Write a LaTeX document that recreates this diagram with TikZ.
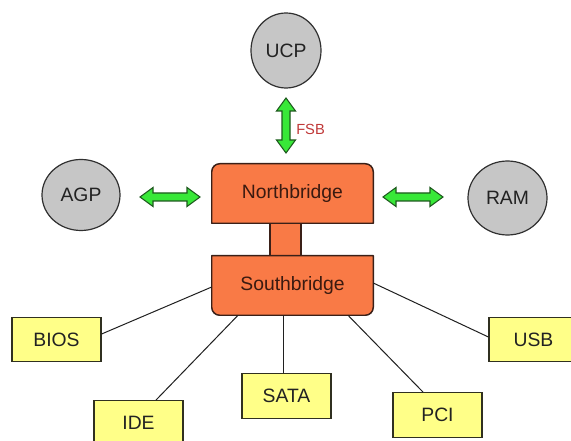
\documentclass[tikz,border=0pt]{standalone}
\usepackage{fontspec}
\setmainfont{Liberation Sans}
\usetikzlibrary{shapes.geometric,calc,backgrounds}
\definecolor{orfill}{HTML}{F97A46}
\definecolor{bridgeline}{HTML}{3A2018}
\definecolor{bridgetext}{HTML}{3A1A10}
\definecolor{grayfill}{HTML}{C6C6C6}
\definecolor{circline}{HTML}{303030}
\definecolor{yellowfill}{HTML}{FFFF88}
\definecolor{boxline}{HTML}{303020}
\definecolor{greenfill}{HTML}{38E838}
\definecolor{greenline}{HTML}{1E5A1E}
\definecolor{fsbred}{HTML}{C03838}
\definecolor{linecol}{HTML}{202020}
\definecolor{labeltext}{HTML}{222222}
\begin{document}
\begin{tikzpicture}[x=0.75pt,y=-0.75pt,
  mainfont/.style={font=\fontsize{14.5}{17}\selectfont},
  bridge/.style={mainfont,minimum width=120.75pt,minimum height=44.25pt,inner sep=0pt,text=bridgetext},
  bridgeshape/.style={fill=orfill,draw=bridgeline,line width=1.1pt,line join=round},
  chip/.style={ellipse,mainfont,draw=circline,line width=0.9pt,fill=grayfill,inner sep=0pt,text=labeltext},
  port/.style={rectangle,mainfont,draw=boxline,line width=0.9pt,fill=yellowfill,minimum width=66.75pt,minimum height=33.5pt,inner sep=0pt,text=labeltext},
  link/.style={draw=linecol,line width=0.75pt},
  dblarrow/.pic={\filldraw[fill=greenfill,draw=greenline,line width=0.8pt]
     (-#1,0) -- (-#1+13,-9.5) -- (-#1+13,-4) -- (#1-13,-4) -- (#1-13,-9.5) -- (#1,0)
     -- (#1-13,9.5) -- (#1-13,4) -- (-#1+13,4) -- (-#1+13,9.5) -- cycle;}
]
\useasboundingbox (0,0) rectangle (571,441);
\clip (0,0) rectangle (571,441);

% bridges
\node[bridge] (nb) at (292.5,193.5) {Northbridge};
\node[bridge] (sb) at (292.5,285.5) {Southbridge};
\begin{scope}[on background layer]
  \fill[white] (0,0) rectangle (571,441);
  \draw[bridgeshape] ($(nb.south)+(-22.5,0)$) rectangle ($(sb.north)+(8.5,0)$);
  \draw[bridgeshape] (nb.south west) -- ($(nb.north west)+(0,8)$)
     arc[start angle=180,end angle=270,radius=8] -- ($(nb.north east)+(-8,0)$)
     arc[start angle=270,end angle=360,radius=8] -- (nb.south east) -- cycle;
  \draw[bridgeshape] (sb.north west) -- ($(sb.south west)+(0,-8)$)
     arc[start angle=180,end angle=90,radius=8] -- ($(sb.south east)+(-8,0)$)
     arc[start angle=90,end angle=0,radius=8] -- (sb.north east) -- cycle;
\end{scope}

% chips
\node[chip,minimum width=52.5pt,minimum height=56.25pt] (ucp) at (286,50.5) {UCP};
\node[chip,minimum width=58.5pt,minimum height=53.25pt] (agp) at (81,195) {AGP};
\node[chip,minimum width=59.25pt,minimum height=55.5pt] (ram) at (507.5,198) {RAM};

% bus arrows
\pic[rotate=90] at (286,125.5) {dblarrow=27.5};
\pic at (170,197) {dblarrow=30};
\pic at (413,197) {dblarrow=30};
\node[anchor=west,inner sep=0pt,text=fsbred,font=\fontsize{11}{13}\selectfont] (fsb) at (296,129) {FSB};

% ports
\node[port] (bios) at (56.5,339.5) {BIOS};
\node[port] (ide) at (138.5,423) {IDE};
\node[port] (sata) at (286.5,396) {SATA};
\node[port] (pci) at (437.5,415) {PCI};
\node[port] (usb) at (533.5,339.5) {USB};

% links
\draw[link] ($(bios.east)+(0,-5.5)$) -- ($(sb.west)+(0,1.5)$);
\draw[link] ($(ide.north)+(17.5,0)$) -- ($(sb.south)+(-54.5,0)$);
\draw[link] ($(sata.north)+(-3.5,0)$) -- ($(sb.south)+(-9.5,0)$);
\draw[link] ($(pci.north)+(-14.5,0)$) -- ($(sb.south)+(55.5,0)$);
\draw[link] ($(usb.west)+(0,-2.5)$) -- ($(sb.east)+(0,-2.5)$);
\end{tikzpicture}
\end{document}
